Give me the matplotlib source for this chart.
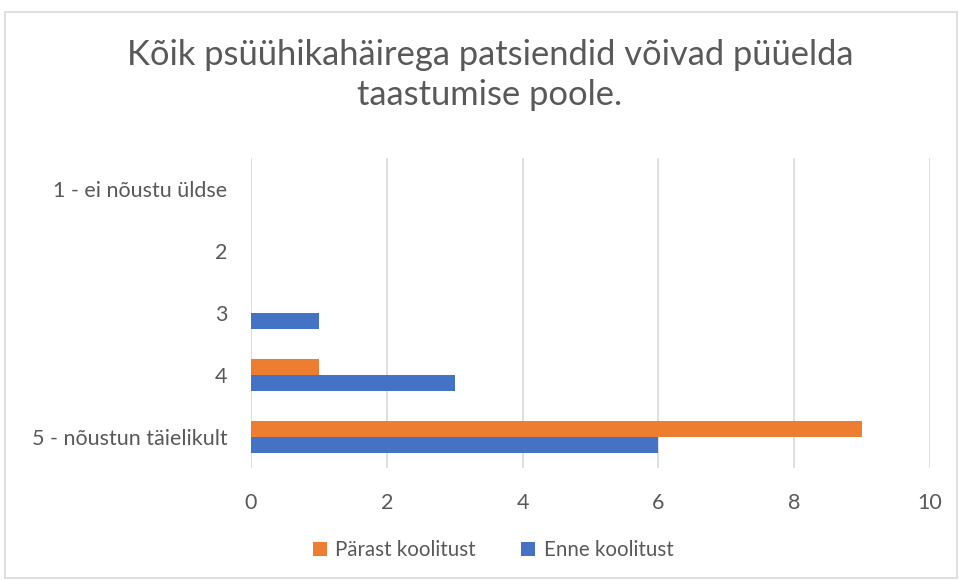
import matplotlib.pyplot as plt
from matplotlib.patches import Rectangle

categories = ['1 - ei nõustu üldse', '2', '3', '4', '5 - nõustun täielikult']
enne = [0, 0, 1, 3, 6]
parast = [0, 0, 0, 1, 9]

plt.rcParams['font.family'] = ['Lato', 'DejaVu Sans']
text_col = '#595959'

fig = plt.figure(figsize=(9.59, 5.8), dpi=100)
ax = fig.add_axes([251 / 959, 1 - 468 / 580, 679 / 959, 310 / 580])

ypos = [len(categories) - 1 - i for i in range(len(categories))]
h = 0.26
ax.barh([y + h / 2 for y in ypos], parast, height=h, color='#ED7D31', label='Pärast koolitust', zorder=3)
ax.barh([y - h / 2 for y in ypos], enne, height=h, color='#4472C4', label='Enne koolitust', zorder=3)

ax.set_xlim(0, 10)
ax.set_ylim(-0.5, len(categories) - 0.5)
ax.set_xticks(range(0, 11, 2))
ax.set_yticks(ypos)
ax.set_yticklabels(categories)
ax.tick_params(length=0, labelsize=15.5, colors=text_col)
ax.tick_params(axis='x', pad=18)
ax.tick_params(axis='y', pad=17)
ax.grid(axis='x', color='#d9d9d9', linewidth=1.2, zorder=0)
for s in ax.spines.values():
    s.set_visible(False)

fig.text(0.511, 1 - 75 / 580, 'Kõik psüühikahäirega patsiendid võivad püüelda\ntaastumise poole.',
         ha='center', va='center', fontsize=24.8, color=text_col, linespacing=1.3)

ax.legend(loc='center', bbox_to_anchor=(493 / 959, 1 - 550 / 580), bbox_transform=fig.transFigure,
          ncol=2, frameon=False, fontsize=14.8, labelcolor=text_col, handlelength=0.7, handleheight=0.7,
          columnspacing=2.2, handletextpad=0.4)

fig.patches.append(Rectangle((5 / 959, 2 / 580), 952 / 959, 566 / 580, transform=fig.transFigure,
                             fill=False, edgecolor='#d9d9d9', linewidth=1.2))

fig.savefig('out.png', dpi=100)
